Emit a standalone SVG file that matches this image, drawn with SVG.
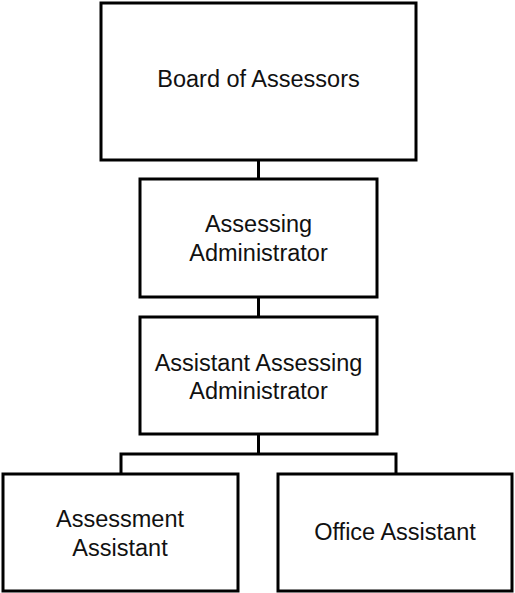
<svg xmlns="http://www.w3.org/2000/svg" width="515" height="593" viewBox="0 0 515 593">
<style>
.box{fill:#fff;stroke:#000;stroke-width:3}
.ln{fill:none;stroke:#000;stroke-width:3}
text{font-family:"Liberation Sans",Arial,sans-serif;font-size:23.5px;fill:#111;text-anchor:middle}
</style>
<rect width="515" height="593" fill="#fff"/>
<g id="connectors">
<line class="ln" x1="258.5" y1="160" x2="258.5" y2="179"/>
<line class="ln" x1="258.5" y1="297" x2="258.5" y2="317"/>
<line class="ln" x1="258.5" y1="434" x2="258.5" y2="454"/>
<polyline class="ln" points="121,474 121,454 396,454 396,474"/>
</g>
<g id="board">
<rect class="box" x="101" y="3" width="315" height="157"/>
<text x="258.5" y="87">Board of Assessors</text>
</g>
<g id="assessing-admin">
<rect class="box" x="140" y="179" width="237" height="118"/>
<text x="258.5" y="232">Assessing</text>
<text x="258.5" y="261">Administrator</text>
</g>
<g id="assistant-assessing-admin">
<rect class="box" x="140" y="317" width="237" height="117"/>
<text x="258.5" y="371">Assistant Assessing</text>
<text x="258.5" y="399">Administrator</text>
</g>
<g id="assessment-assistant">
<rect class="box" x="3" y="474" width="235" height="117"/>
<text x="120" y="527">Assessment</text>
<text x="120" y="556">Assistant</text>
</g>
<g id="office-assistant">
<rect class="box" x="278" y="474" width="234" height="117"/>
<text x="395" y="540">Office Assistant</text>
</g>
</svg>
